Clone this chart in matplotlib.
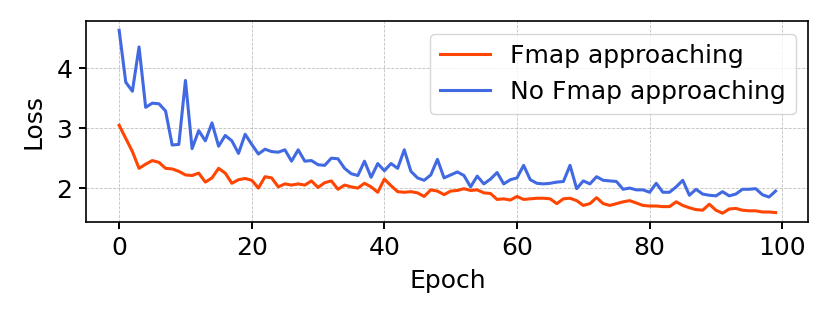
import matplotlib
matplotlib.use("Agg")
import matplotlib.pyplot as plt
import numpy as np

epochs = np.arange(100)

fmap_loss = [
    3.05, 2.83, 2.61, 2.33, 2.40, 2.46, 2.43, 2.33, 2.32, 2.28,
    2.22, 2.21, 2.25, 2.10, 2.17, 2.33, 2.25, 2.08, 2.14, 2.16,
    2.13, 2.00, 2.19, 2.17, 2.02, 2.07, 2.05, 2.07, 2.05, 2.12,
    2.01, 2.09, 2.12, 1.98, 2.05, 2.02, 2.00, 2.08, 2.02, 1.93,
    2.15, 2.04, 1.94, 1.93, 1.94, 1.92, 1.86, 1.97, 1.95, 1.89,
    1.95, 1.96, 1.99, 1.96, 1.97, 1.92, 1.91, 1.81, 1.82, 1.80,
    1.86, 1.81, 1.82, 1.83, 1.83, 1.82, 1.74, 1.82, 1.83, 1.79,
    1.71, 1.74, 1.84, 1.74, 1.71, 1.74, 1.77, 1.79, 1.75, 1.71,
    1.70, 1.70, 1.69, 1.69, 1.77, 1.71, 1.67, 1.64, 1.63, 1.73,
    1.63, 1.58, 1.65, 1.66, 1.63, 1.62, 1.62, 1.60, 1.60, 1.59,
]

no_fmap_loss = [
    4.64, 3.77, 3.62, 4.36, 3.35, 3.42, 3.41, 3.29, 2.72, 2.73,
    3.80, 2.66, 2.96, 2.79, 3.09, 2.70, 2.88, 2.79, 2.58, 2.90,
    2.73, 2.57, 2.65, 2.61, 2.60, 2.64, 2.45, 2.64, 2.45, 2.46,
    2.39, 2.38, 2.50, 2.49, 2.33, 2.24, 2.21, 2.45, 2.18, 2.41,
    2.29, 2.41, 2.33, 2.64, 2.28, 2.17, 2.13, 2.22, 2.48, 2.17,
    2.22, 2.27, 2.21, 2.02, 2.20, 2.07, 2.15, 2.26, 2.07, 2.14,
    2.17, 2.38, 2.14, 2.08, 2.07, 2.08, 2.10, 2.11, 2.38, 1.99,
    2.12, 2.07, 2.19, 2.13, 2.12, 2.11, 1.98, 2.00, 1.97, 1.97,
    1.93, 2.08, 1.93, 1.93, 2.02, 2.13, 1.88, 1.98, 1.90, 1.88,
    1.87, 1.94, 1.87, 1.90, 1.98, 1.98, 1.99, 1.89, 1.85, 1.95,
]

plt.rcParams['font.size'] = 18

fig, ax = plt.subplots(figsize=(8.3, 3.19), dpi=100)
ax.plot(epochs, fmap_loss, color='orangered', lw=2.2, label='Fmap approaching')
ax.plot(epochs, no_fmap_loss, color='royalblue', lw=2.2, label='No Fmap approaching')
ax.set_xlabel('Epoch', labelpad=6)
ax.set_ylabel('Loss', labelpad=8)
ax.tick_params(length=5, width=1.4, pad=5)
for s in ax.spines.values():
    s.set_linewidth(1.2)
ax.grid(True, linestyle='--', linewidth=0.6, color='#b0b0b0', alpha=0.8)
ax.legend(loc='upper right')
fig.subplots_adjust(left=0.104, right=0.974, top=0.934, bottom=0.303)
fig.savefig('out.png')
